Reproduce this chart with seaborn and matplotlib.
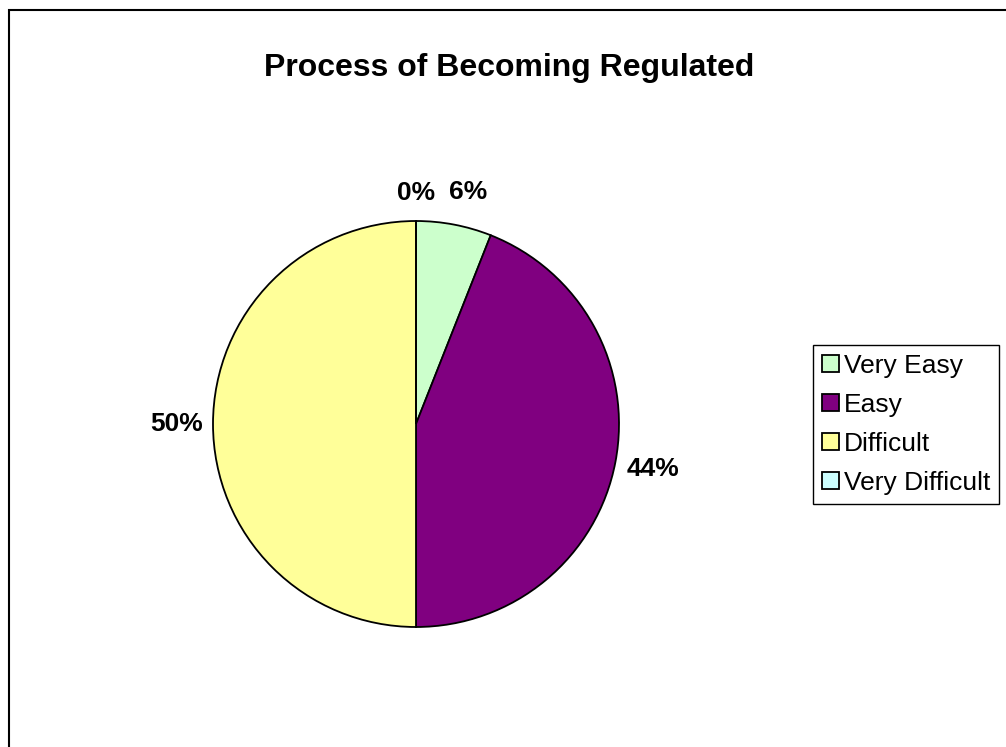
import matplotlib
matplotlib.use("Agg")
import numpy as np
import matplotlib.pyplot as plt
from matplotlib.patches import Rectangle
import seaborn as sns

categories = ["Very Easy", "Easy", "Difficult", "Very Difficult"]
values = [6, 44, 50, 0]
colors = ["#CCFFCC", "#800080", "#FFFF99", "#CCFFFF"]
title = "Process of Becoming Regulated"

sns.set_style("white")
plt.rcParams["font.family"] = ["Liberation Sans", "DejaVu Sans"]
plt.rcParams["text.color"] = "black"

W, H = 1006, 747
fig = plt.figure(figsize=(W / 100, H / 100), dpi=100)

palette = sns.color_palette(colors)

cx, cy, R = 416, 424, 203
ax = fig.add_axes([(cx - R) / W, (H - cy - R) / H, 2 * R / W, 2 * R / H])
wedges, texts, autotexts = ax.pie(
    values,
    colors=palette,
    startangle=90,
    counterclock=False,
    autopct="%.0f%%",
    pctdistance=1.18,
    wedgeprops=dict(edgecolor="black", linewidth=1.3),
    textprops=dict(fontsize=19, fontweight="bold", color="black"),
)
# Excel-like label placement: labels near the top sit a bit closer
label_dist = [1.165, 1.19, 1.18, 1.14]
label_shift = [0.04, 0.0, 0.0, 0.0]
for w, t, d, s in zip(wedges, autotexts, label_dist, label_shift):
    ang = np.deg2rad((w.theta1 + w.theta2) / 2)
    t.set_position((d * np.cos(ang) + s, d * np.sin(ang)))
ax.set_xlim(-1, 1)
ax.set_ylim(-1, 1)
ax.set_aspect("equal")
ax.axis("off")

fig.text(509 / W, 1 - 68 / H, title, ha="center", va="center",
         fontsize=23, fontweight="bold", color="black")

leg = fig.legend(
    wedges, categories,
    loc="upper left",
    bbox_to_anchor=(813 / W, 1 - 345 / H),
    borderaxespad=0,
    fontsize=19,
    frameon=True,
    fancybox=False,
    framealpha=1,
    edgecolor="black",
    handlelength=0.62,
    handleheight=0.62,
    handletextpad=0.2,
    labelspacing=0.56,
    borderpad=0.35,
    labelcolor="black",
)
leg.get_frame().set_linewidth(1.0)

fig.patches.append(Rectangle((9 / W, -0.5), 2.0, 1.5 - 10 / H,
                             transform=fig.transFigure, fill=False,
                             edgecolor="black", linewidth=1.5))

fig.savefig("out.png", dpi=100, facecolor="white")
